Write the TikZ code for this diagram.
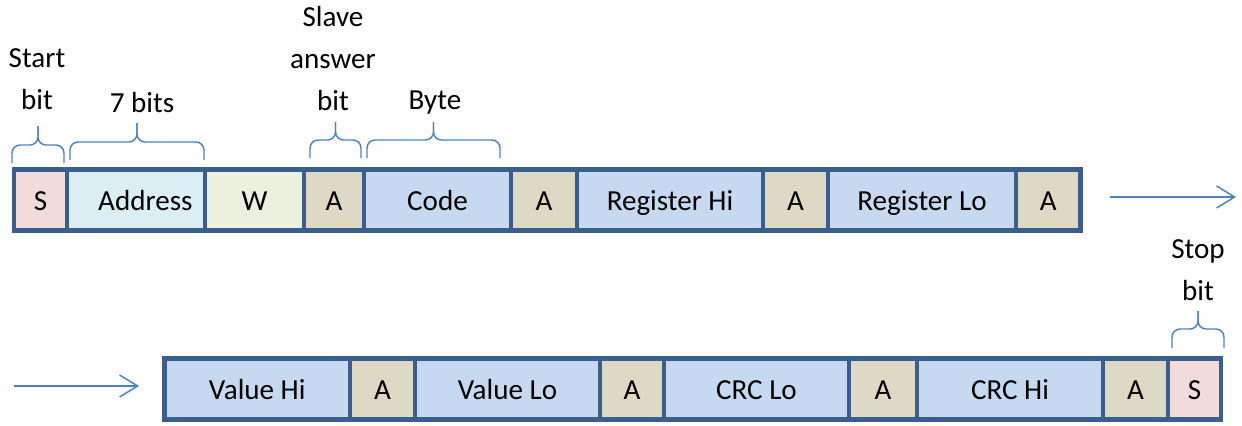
\documentclass[tikz,border=0pt]{standalone}
\usepackage{fontspec}
\setmainfont{Carlito}
\usetikzlibrary{arrows.meta}
\definecolor{frame}{HTML}{3B5E8C}
\definecolor{accent}{HTML}{4F81BD}
\definecolor{cpink}{HTML}{F2DCDB}
\definecolor{ccyan}{HTML}{DBEEF4}
\definecolor{cgreen}{HTML}{EBF1DE}
\definecolor{ctan}{HTML}{DDD9C4}
\definecolor{cblue}{HTML}{C6D9F1}
\newcommand{\fcell}[7]{\node[cell,fill=#6,minimum width={(#3-#2)*0.75pt},minimum height={#5*0.75pt}] (#1) at ({(#2+#3)/2},#4) {#7};}
\newcommand{\fbrace}[5]{\draw[bracestyle] (#1,#3) -- (#1,#4) -- ({(#1+#2)/2},#4) -- ({(#1+#2)/2},#5);
  \draw[bracestyle] (#2,#3) -- (#2,#4) -- ({(#1+#2)/2},#4) -- ({(#1+#2)/2},#5);}
\begin{document}
\begin{tikzpicture}[x=0.75pt,y=-0.75pt,
  cell/.style={draw=frame,line width=3.4pt,inner sep=0pt,outer sep=0pt,text height=18pt,text depth=3pt,font=\fontsize{21.8}{26}\selectfont},
  lbl/.style={align=center,inner sep=0pt,font=\fontsize{21.8}{31.5}\selectfont},
  bracestyle/.style={draw=accent,line width=1.1pt,rounded corners=6pt},
  flow/.style={draw=accent,line width=1.1pt,-{Straight Barb[length=13.5pt,width=16.5pt,line width=1.1pt]}}]
\useasboundingbox (0,0) rectangle (1242,425);
% row 1
\fcell{s1}{14}{67}{200}{61}{cpink}{S}
\fcell{addr}{67}{205}{200}{61}{ccyan}{\hspace*{14pt}Address}
\fcell{w}{205}{304}{200}{61}{cgreen}{W}
\fcell{a1}{304}{364}{200}{61}{ctan}{A}
\fcell{code}{364}{511}{200}{61}{cblue}{Code}
\fcell{a2}{511}{577}{200}{61}{ctan}{A}
\fcell{reghi}{577}{763}{200}{61}{cblue}{Register Hi}
\fcell{a3}{763}{828}{200}{61}{ctan}{A}
\fcell{reglo}{828}{1016}{200}{61}{cblue}{Register Lo}
\fcell{a4}{1016}{1080.5}{200}{61}{ctan}{A}
% row 2
\fcell{valhi}{164.5}{350}{389}{60.5}{cblue}{Value Hi}
\fcell{a5}{350}{415}{389}{60.5}{ctan}{A}
\fcell{vallo}{415}{600}{389}{60.5}{cblue}{Value Lo}
\fcell{a6}{600}{664}{389}{60.5}{ctan}{A}
\fcell{crclo}{664}{849}{389}{60.5}{cblue}{CRC Lo}
\fcell{a7}{849}{917}{389}{60.5}{ctan}{A}
\fcell{crchi}{917}{1103}{389}{60.5}{cblue}{CRC Hi}
\fcell{a8}{1103}{1168}{389}{60.5}{ctan}{A}
\fcell{s2}{1168}{1221}{389}{60.5}{cpink}{S}
% arrows
\coordinate (ar1s) at (1110,197);
\coordinate (ar1e) at (1236,197);
\coordinate (ar2s) at (14,386);
\coordinate (ar2e) at (139,386);
\draw[flow] (ar1s) -- (ar1e);
\draw[flow] (ar2s) -- (ar2e);
% braces
\fbrace{12}{64}{163}{145}{126}
\fbrace{70}{204}{160}{142}{123}
\fbrace{310}{361}{158}{140}{122}
\fbrace{367}{500}{158}{140}{122}
\fbrace{1172}{1224}{348}{329}{311}
% labels
\node[lbl] (lstart) at (37,79) {Start\\bit};
\node[lbl] (lseven) at (142,103) {7 bits};
\node[lbl] (lslave) at (333,59) {Slave\\answer\\bit};
\node[lbl] (lbyte) at (435,103) {Byte};
\node[lbl] (lstop) at (1198,270) {Stop\\bit};
\end{tikzpicture}
\end{document}
